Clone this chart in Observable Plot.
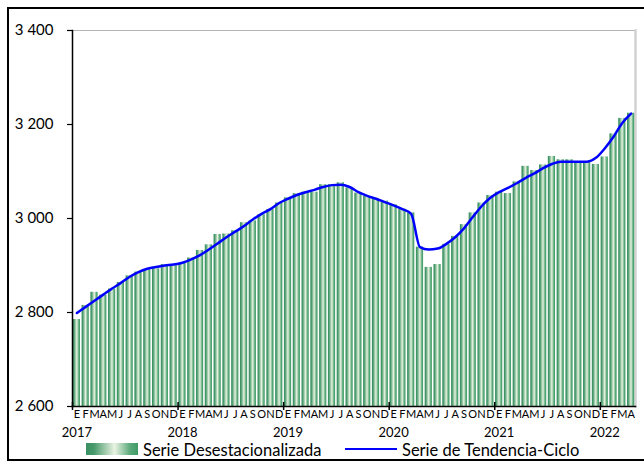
<!DOCTYPE html>
<html>
<head>
<meta charset="utf-8">
<script src="https://cdn.jsdelivr.net/npm/d3@7"></script>
<script src="https://cdn.jsdelivr.net/npm/@observablehq/plot@0.6"></script>
<style>
  body { margin: 0; background: #fff; }
  #wrap { position: relative; width: 644px; height: 462px; overflow: hidden; font-family: Lato, "Open Sans", sans-serif; }
  #frame { position: absolute; left: 7px; top: 7px; width: 700px; height: 454px; border: 2px solid #000; box-sizing: border-box; pointer-events: none; }
  #chart { position: absolute; left: 0; top: 0; }
  .sw { position: absolute; }
  .lt { position: absolute; font-size: 16.5px; line-height: 16px; color: #000; white-space: nowrap; }
</style>
</head>
<body>
<div id="wrap">
  <div id="chart"></div>
  <div class="sw" style="left:86px;top:443px;width:52px;height:12px;background:linear-gradient(to right,#3a9062 0%,#47996b 15%,#e9f3e2 55%,#5aa97a 85%,#3f9a66 100%);"></div>
  <div class="lt" style="left:143px;top:442px;">Serie Desestacionalizada</div>
  <div class="sw" style="left:345px;top:448px;width:52px;height:0;border-top:2.5px solid #0000ff;"></div>
  <div class="lt" style="left:402px;top:442px;">Serie de Tendencia-Ciclo</div>
  <div id="frame"></div>
</div>
<script>
const years = [2017, 2018, 2019, 2020, 2021, 2022];
const monthLetters = ["E","F","M","A","M","J","J","A","S","O","N","D"];
const yTicks = [2600, 2800, 3000, 3200, 3400];

// Serie Desestacionalizada (Jan 2017 - Apr 2022)
const desest = [
  2785, 2815, 2843, 2837, 2850, 2864, 2878, 2886, 2891, 2893, 2902, 2900,
  2905, 2916, 2932, 2944, 2966, 2967, 2974, 2991, 2995, 3008, 3019, 3033,
  3044, 3053, 3056, 3056, 3072, 3072, 3076, 3065, 3054, 3047, 3042, 3037,
  3029, 3020, 3012, 2939, 2896, 2902, 2945, 2962, 2987, 3012, 3033, 3049,
  3056, 3053, 3078, 3111, 3102, 3114, 3132, 3125, 3125, 3120, 3120, 3115,
  3131, 3180, 3213, 3224
];
// Serie de Tendencia-Ciclo
const trend = [
  2799, 2812, 2825, 2838, 2851, 2863, 2876, 2886, 2893, 2897, 2900, 2902,
  2906, 2913, 2922, 2934, 2947, 2960, 2972, 2984, 2998, 3010, 3020, 3033,
  3042, 3050, 3056, 3061, 3067, 3071, 3072, 3067, 3056, 3048, 3042, 3035,
  3028, 3020, 3010, 2939, 2934, 2936, 2946, 2960, 2979, 3003, 3026, 3044,
  3056, 3065, 3075, 3086, 3096, 3107, 3116, 3121, 3121, 3121, 3121, 3129,
  3149, 3174, 3203, 3223
];

const data = desest.map((v, i) => ({
  k: `${years[Math.floor(i / 12)]}-${String(i % 12 + 1).padStart(2, "0")}`,
  year: years[Math.floor(i / 12)],
  m: monthLetters[i % 12],
  v,
  t: trend[i]
}));
const keys = data.map(d => d.k);
const jans = data.filter(d => d.k.endsWith("-01"));
const lookup = new Map(data.map(d => [d.k, d.m]));

const W = 644, H = 440, ML = 72, MR = 9;
const step = (W - ML - MR) / keys.length;

const gradientDefs = () => {
  const defs = d3.create("svg:defs");
  const g = defs.append("linearGradient").attr("id", "barGrad")
    .attr("x1", 0).attr("x2", 1).attr("y1", 0).attr("y2", 0);
  [[0, "#38905f"], [0.15, "#45986a"], [0.55, "#e6f2df"], [0.85, "#56a877"], [1, "#3d9964"]]
    .forEach(([o, c]) => g.append("stop").attr("offset", o).attr("stop-color", c));
  return defs.node();
};

const fmt = d => d3.format(",")(d).replace(",", " ");

const chart = Plot.plot({
  width: W, height: H,
  marginLeft: ML, marginRight: MR, marginTop: 30, marginBottom: H - 406,
  style: { fontFamily: "Lato, 'Open Sans', sans-serif", color: "#000", background: "transparent", overflow: "visible" },
  x: { type: "band", domain: keys, paddingInner: 0.18, paddingOuter: 0.09, axis: null, label: null },
  y: { domain: [2600, 3400], axis: null, label: null },
  marks: [
    gradientDefs,
    Plot.frame({ anchor: "top", stroke: "#b4b4b4" }),
    Plot.frame({ anchor: "right", stroke: "#d2d2d2", strokeWidth: 2.5 }),
    Plot.barY(data, { x: "k", y1: 2600, y2: "v", fill: "url(#barGrad)" }),
    Plot.lineY(data, { x: "k", y: "t", stroke: "#0000ff", strokeWidth: 2.5, curve: "monotone-x" }),
    Plot.frame({ anchor: "left", stroke: "#000", strokeWidth: 1.5 }),
    Plot.frame({ anchor: "bottom", stroke: "#000", strokeWidth: 1.5 }),
    Plot.axisY({ ticks: yTicks, tickSize: 5, tickPadding: 14, tickFormat: fmt, fontSize: 15, stroke: "#000", strokeWidth: 1.2, label: null }),
    Plot.axisX({ ticks: keys, tickSize: 0, tickPadding: 4, tickFormat: k => lookup.get(k), fontSize: 11, label: null }),
    Plot.ruleX(jans, { x: "k", y1: 2600, y2: 2600, dx: -step / 2, insetTop: -4, insetBottom: -4, stroke: "#000", strokeWidth: 1.5 }),
    Plot.text(jans, { x: "k", text: d => String(d.year), frameAnchor: "bottom", dy: 26, lineAnchor: "middle", fontSize: 13 })
  ]
});
document.getElementById("chart").appendChild(chart);
</script>
</body>
</html>
